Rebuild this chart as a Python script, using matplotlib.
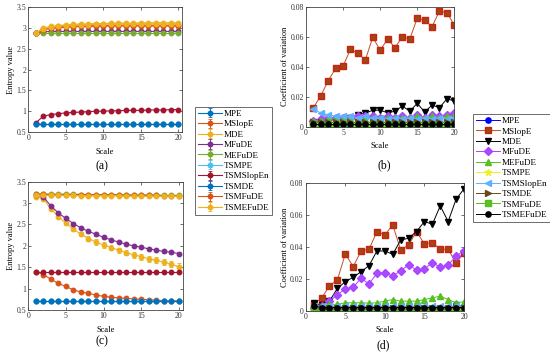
import numpy as np
import matplotlib
matplotlib.use("Agg")
import matplotlib.pyplot as plt

plt.rcParams['font.family'] = ['Liberation Serif', 'DejaVu Serif']

W, H = 550, 356
scale = np.arange(1, 21)
names = ['MPE', 'MSlopE', 'MDE', 'MFuDE', 'MEFuDE',
         'TSMPE', 'TSMSlopEn', 'TSMDE', 'TSMFuDE', 'TSMEFuDE']

# (a) entropy values
a_mpe = [0.70, 0.70, 0.70, 0.70, 0.70, 0.70, 0.70, 0.70, 0.70, 0.70, 0.70, 0.70, 0.70, 0.70, 0.70, 0.70, 0.70, 0.70, 0.70, 0.70]
a_mslope = [2.88, 2.97, 3.01, 3.03, 3.04, 3.05, 3.05, 3.06, 3.06, 3.06, 3.07, 3.07, 3.07, 3.07, 3.07, 3.07, 3.07, 3.07, 3.07, 3.07]
a_mde = [2.88, 3.00, 3.04, 3.06, 3.08, 3.09, 3.10, 3.10, 3.11, 3.11, 3.12, 3.12, 3.12, 3.12, 3.13, 3.13, 3.13, 3.13, 3.13, 3.13]
a_mfude = [2.89, 2.91, 2.92, 2.92, 2.92, 2.92, 2.92, 2.92, 2.92, 2.92, 2.92, 2.92, 2.92, 2.92, 2.92, 2.92, 2.92, 2.92, 2.92, 2.92]
a_mefude = [2.88, 2.88, 2.88, 2.88, 2.88, 2.88, 2.88, 2.88, 2.88, 2.88, 2.88, 2.88, 2.88, 2.88, 2.88, 2.88, 2.88, 2.88, 2.88, 2.88]
a_tsmpe = [0.69, 0.69, 0.69, 0.69, 0.69, 0.69, 0.69, 0.69, 0.69, 0.69, 0.69, 0.69, 0.69, 0.69, 0.69, 0.69, 0.69, 0.69, 0.69, 0.69]
a_tsmslopen = [0.72, 0.88, 0.92, 0.94, 0.96, 0.97, 0.98, 0.99, 1.00, 1.00, 1.01, 1.01, 1.02, 1.02, 1.02, 1.03, 1.03, 1.03, 1.04, 1.04]
a_tsmde = [0.70, 0.70, 0.70, 0.70, 0.70, 0.70, 0.70, 0.70, 0.70, 0.70, 0.70, 0.70, 0.70, 0.70, 0.70, 0.70, 0.70, 0.70, 0.70, 0.70]
a_tsmfude = [2.88, 2.96, 2.99, 3.01, 3.02, 3.03, 3.04, 3.04, 3.05, 3.05, 3.05, 3.05, 3.05, 3.05, 3.05, 3.05, 3.05, 3.05, 3.05, 3.05]
a_tsmefude = [2.88, 2.98, 3.02, 3.05, 3.06, 3.07, 3.08, 3.08, 3.09, 3.09, 3.10, 3.10, 3.10, 3.10, 3.10, 3.10, 3.10, 3.10, 3.10, 3.10]

# (c) entropy values
c_mpe = [0.70, 0.70, 0.70, 0.70, 0.70, 0.70, 0.70, 0.70, 0.70, 0.70, 0.70, 0.70, 0.70, 0.70, 0.70, 0.70, 0.70, 0.70, 0.70, 0.70]
c_mslope = [1.40, 1.33, 1.22, 1.12, 1.05, 0.97, 0.92, 0.89, 0.85, 0.82, 0.80, 0.78, 0.77, 0.76, 0.75, 0.74, 0.73, 0.72, 0.72, 0.71]
c_mde = [3.15, 3.10, 2.87, 2.68, 2.53, 2.39, 2.27, 2.17, 2.09, 2.02, 1.96, 1.90, 1.84, 1.79, 1.75, 1.70, 1.66, 1.62, 1.57, 1.51]
c_mfude = [3.20, 3.15, 2.93, 2.77, 2.64, 2.52, 2.42, 2.34, 2.27, 2.20, 2.14, 2.09, 2.04, 2.00, 1.97, 1.93, 1.90, 1.87, 1.85, 1.82]
c_mefude = [3.21, 3.21, 3.21, 3.21, 3.21, 3.21, 3.20, 3.20, 3.20, 3.20, 3.20, 3.20, 3.19, 3.19, 3.19, 3.19, 3.19, 3.18, 3.18, 3.18]
c_tsmpe = [0.70, 0.70, 0.70, 0.70, 0.70, 0.70, 0.70, 0.70, 0.70, 0.70, 0.70, 0.70, 0.70, 0.70, 0.70, 0.70, 0.70, 0.70, 0.70, 0.70]
c_tsmslopen = [1.39, 1.39, 1.39, 1.39, 1.39, 1.39, 1.39, 1.39, 1.39, 1.39, 1.39, 1.39, 1.39, 1.39, 1.39, 1.39, 1.39, 1.39, 1.39, 1.39]
c_tsmde = [0.70, 0.70, 0.70, 0.70, 0.70, 0.70, 0.70, 0.70, 0.70, 0.70, 0.70, 0.70, 0.70, 0.70, 0.70, 0.70, 0.70, 0.70, 0.70, 0.70]
c_tsmfude = [3.21, 3.21, 3.20, 3.20, 3.20, 3.20, 3.20, 3.20, 3.19, 3.19, 3.19, 3.19, 3.19, 3.18, 3.18, 3.18, 3.18, 3.17, 3.17, 3.17]
c_tsmefude = [3.18, 3.18, 3.18, 3.18, 3.18, 3.18, 3.17, 3.17, 3.17, 3.17, 3.17, 3.17, 3.16, 3.16, 3.16, 3.16, 3.16, 3.16, 3.16, 3.16]
c_mde_err = [0.01, 0.02, 0.03, 0.04, 0.04, 0.05, 0.05, 0.05, 0.06, 0.06, 0.06, 0.06, 0.06, 0.07, 0.07, 0.07, 0.07, 0.07, 0.07, 0.08]
c_mfude_err = [0.01, 0.02, 0.02, 0.02, 0.03, 0.03, 0.03, 0.03, 0.03, 0.03, 0.03, 0.03, 0.03, 0.03, 0.03, 0.03, 0.03, 0.03, 0.03, 0.04]
small_err = 0.012

# (b) coefficient of variation
b_mpe = [0.0002, 0.0002, 0.0002, 0.0002, 0.0002, 0.0002, 0.0002, 0.0002, 0.0002, 0.0002, 0.0002, 0.0002, 0.0002, 0.0002, 0.0002, 0.0002, 0.0002, 0.0002, 0.0002, 0.0002]
b_mslope = [0.0127, 0.0207, 0.0307, 0.0390, 0.0405, 0.0516, 0.0490, 0.0445, 0.0596, 0.0510, 0.0583, 0.0527, 0.0600, 0.0585, 0.0723, 0.0711, 0.0667, 0.0771, 0.0760, 0.0678]
b_mde = [0.003, 0.004, 0.004, 0.005, 0.005, 0.006, 0.008, 0.009, 0.011, 0.011, 0.0093, 0.0103, 0.0138, 0.0103, 0.0156, 0.0098, 0.0144, 0.0127, 0.0185, 0.0173]
b_mfude = [0.004, 0.005, 0.006, 0.006, 0.006, 0.006, 0.007, 0.007, 0.007, 0.006, 0.007, 0.006, 0.007, 0.006, 0.008, 0.006, 0.008, 0.007, 0.008, 0.009]
b_mefude = [0.004, 0.004, 0.005, 0.005, 0.005, 0.005, 0.005, 0.005, 0.006, 0.006, 0.006, 0.006, 0.006, 0.006, 0.007, 0.006, 0.007, 0.006, 0.007, 0.007]
b_tsmpe = [0.0005, 0.0005, 0.0005, 0.0005, 0.0005, 0.0005, 0.0005, 0.0005, 0.0005, 0.0005, 0.0005, 0.0005, 0.0005, 0.0005, 0.0005, 0.0005, 0.0005, 0.0005, 0.0005, 0.0005]
b_tsmslopen = [0.012, 0.009, 0.008, 0.007, 0.007, 0.007, 0.006, 0.007, 0.006, 0.006, 0.005, 0.006, 0.005, 0.006, 0.005, 0.006, 0.005, 0.006, 0.005, 0.006]
b_tsmde = [0.003, 0.003, 0.003, 0.003, 0.003, 0.003, 0.003, 0.003, 0.003, 0.003, 0.003, 0.003, 0.003, 0.003, 0.003, 0.003, 0.003, 0.003, 0.003, 0.003]
b_tsmfude = [0.001, 0.001, 0.001, 0.001, 0.001, 0.001, 0.001, 0.001, 0.001, 0.001, 0.001, 0.001, 0.001, 0.001, 0.001, 0.001, 0.001, 0.001, 0.001, 0.001]
b_tsmefude = [0.002, 0.002, 0.002, 0.002, 0.002, 0.002, 0.002, 0.002, 0.002, 0.002, 0.002, 0.002, 0.002, 0.002, 0.002, 0.002, 0.002, 0.002, 0.002, 0.002]

# (d) coefficient of variation
d_mpe = [0.0005, 0.0005, 0.0005, 0.0005, 0.0005, 0.0005, 0.0005, 0.0005, 0.0005, 0.0005, 0.0005, 0.0005, 0.0005, 0.0005, 0.0005, 0.0005, 0.0005, 0.0008, 0.0040, 0.0020]
d_mslope = [0.004, 0.0078, 0.0157, 0.0193, 0.0356, 0.0277, 0.0375, 0.0386, 0.0497, 0.0476, 0.0539, 0.0381, 0.0413, 0.0497, 0.0419, 0.0428, 0.0386, 0.0386, 0.0298, 0.0365]
d_mde = [0.0046, 0.0036, 0.0060, 0.0140, 0.0182, 0.0210, 0.0245, 0.0283, 0.0375, 0.0375, 0.0354, 0.0444, 0.0455, 0.0497, 0.0560, 0.0543, 0.0658, 0.0560, 0.0700, 0.0765]
d_mfude = [0.002, 0.003, 0.006, 0.0099, 0.0138, 0.0147, 0.0204, 0.0168, 0.0235, 0.0238, 0.0218, 0.0251, 0.0287, 0.0256, 0.0262, 0.0302, 0.0273, 0.0287, 0.0344, 0.0377]
d_mefude = [0.002, 0.003, 0.004, 0.004, 0.005, 0.005, 0.005, 0.0047, 0.005, 0.006, 0.007, 0.006, 0.006, 0.006, 0.007, 0.008, 0.0092, 0.007, 0.005, 0.0057]
d_tsmpe = [0.0003, 0.0003, 0.0003, 0.0003, 0.0003, 0.0003, 0.0003, 0.0003, 0.0003, 0.0003, 0.0003, 0.0003, 0.0003, 0.0003, 0.0003, 0.0003, 0.0003, 0.0003, 0.0003, 0.0003]
d_tsmslopen = [0.003, 0.003, 0.003, 0.003, 0.003, 0.003, 0.003, 0.003, 0.003, 0.003, 0.003, 0.003, 0.003, 0.003, 0.003, 0.003, 0.003, 0.003, 0.003, 0.003]
d_tsmde = [0.002, 0.002, 0.002, 0.002, 0.002, 0.002, 0.002, 0.002, 0.002, 0.002, 0.002, 0.002, 0.002, 0.002, 0.002, 0.002, 0.002, 0.002, 0.002, 0.002]
d_tsmfude = [0.0005, 0.0005, 0.0005, 0.0005, 0.0005, 0.0005, 0.0005, 0.0005, 0.0005, 0.0005, 0.0005, 0.0005, 0.0005, 0.0005, 0.0005, 0.0005, 0.0005, 0.0005, 0.0005, 0.0005]
d_tsmefude = [0.003, 0.002, 0.002, 0.002, 0.002, 0.002, 0.002, 0.002, 0.002, 0.002, 0.002, 0.002, 0.002, 0.002, 0.002, 0.002, 0.002, 0.002, 0.002, 0.002]

# matlab default colour order, cycled for the entropy plots
mcol = ['#0072BD', '#D95319', '#EDB120', '#7E2F8E', '#77AC30',
        '#4DBEEE', '#A2142F', '#0072BD', '#D95319', '#EDB120']
# marker styles for the cv plots: (marker, line colour, face colour, edge colour)
cv_style = [('o', '#0000ff', '#0000ff', '#0000ff'),
            ('s', '#c0502a', '#9a4a14', '#d02010'),
            ('v', '#000000', '#000000', '#000000'),
            ('D', '#b040ff', '#a050ff', '#b040ff'),
            ('^', '#50c020', '#60c020', '#50c020'),
            ('*', '#f0f020', '#f0f020', '#f0f020'),
            ('<', '#60b0ff', '#60b0ff', '#60b0ff'),
            ('>', '#6a4a1a', '#6a4a1a', '#6a4a1a'),
            ('s', '#50c020', '#60c020', '#50c020'),
            ('o', '#000000', '#000000', '#000000')]

fig = plt.figure(figsize=(W / 100, H / 100), dpi=100)


def add_ax(l, t, r, b):
    return fig.add_axes([l / W, 1 - b / H, (r - l) / W, (b - t) / H])


def style_ax(ax):
    ax.tick_params(direction='in', top=True, right=True, length=2.5, width=0.5,
                   labelsize=5.6, pad=1.5, colors='#333333')
    for s in ax.spines.values():
        s.set_linewidth(0.6)
        s.set_color('#444444')


def entropy_panel(ax, series, errs):
    for i, y in enumerate(series):
        ax.errorbar(scale, y, yerr=errs[i], color=mcol[i], marker='o', ms=3.2,
                    lw=0.8, elinewidth=0.7, capsize=1.2, capthick=0.6,
                    label=names[i])
    ax.set_xlim(0, 20.5)
    ax.set_ylim(0.5, 3.5)
    ax.set_xticks([0, 5, 10, 15, 20])
    ax.set_yticks([0.5, 1, 1.5, 2, 2.5, 3, 3.5])
    ax.set_yticklabels(['0.5', '1', '1.5', '2', '2.5', '3', '3.5'])
    ax.set_xlabel('Scale', fontsize=6)
    ax.set_ylabel('Entropy value', fontsize=6, labelpad=1)
    style_ax(ax)


def cv_panel(ax, series):
    for i, y in enumerate(series):
        m, lc, fc, ec = cv_style[i]
        ax.plot(scale, y, color=lc, marker=m, mfc=fc, mec=ec, ms=3.8 if m != '*' else 5,
                lw=0.7, label=names[i])
    ax.set_xlim(0, 20)
    ax.set_ylim(0, 0.08)
    ax.set_xticks([0, 5, 10, 15, 20])
    ax.set_yticks([0, 0.02, 0.04, 0.06, 0.08])
    ax.set_yticklabels(['0', '0.02', '0.04', '0.06', '0.08'])
    ax.set_xlabel('Scale', fontsize=6)
    ax.set_ylabel('Coefficient of variation', fontsize=6, labelpad=1)
    style_ax(ax)


ax_a = add_ax(28.3, 7.3, 182, 132)
entropy_panel(ax_a, [a_mpe, a_mslope, a_mde, a_mfude, a_mefude, a_tsmpe,
                     a_tsmslopen, a_tsmde, a_tsmfude, a_tsmefude], [small_err] * 10)

ax_c = add_ax(28.3, 181.7, 182.5, 310)
c_errs = [small_err, small_err, c_mde_err, c_mfude_err] + [small_err] * 6
entropy_panel(ax_c, [c_mpe, c_mslope, c_mde, c_mfude, c_mefude, c_tsmpe,
                     c_tsmslopen, c_tsmde, c_tsmfude, c_tsmefude], c_errs)

ax_b = add_ax(306, 6.7, 454.3, 126.7)
cv_panel(ax_b, [b_mpe, b_mslope, b_mde, b_mfude, b_mefude, b_tsmpe,
                b_tsmslopen, b_tsmde, b_tsmfude, b_tsmefude])

ax_d = add_ax(305.7, 183.3, 464, 310.7)
cv_panel(ax_d, [d_mpe, d_mslope, d_mde, d_mfude, d_mefude, d_tsmpe,
                d_tsmslopen, d_tsmde, d_tsmfude, d_tsmefude])

# panel letters
for txt, x, y in [('(a)', 102, 166), ('(b)', 384, 165), ('(c)', 102, 341), ('(d)', 383, 345)]:
    fig.text(x / W, 1 - y / H, txt, ha='center', va='center', fontsize=8.5)

# legends
h, l = ax_a.get_legend_handles_labels()
leg1 = fig.legend(h, l, loc='upper left', bbox_to_anchor=(195 / W, 1 - 106.7 / H),
                  fontsize=6.6, frameon=True, fancybox=False, framealpha=1,
                  edgecolor='#555555', borderpad=0.3, labelspacing=0.22,
                  handlelength=2.6, handletextpad=0.2, borderaxespad=0)
leg1.get_frame().set_linewidth(0.6)

h, l = ax_b.get_legend_handles_labels()
leg2 = fig.legend(h, l, loc='upper left', bbox_to_anchor=(473.3 / W, 1 - 114 / H),
                  fontsize=6.6, frameon=True, fancybox=False, framealpha=1,
                  edgecolor='#555555', borderpad=0.3, labelspacing=0.22,
                  handlelength=2.6, handletextpad=0.2, borderaxespad=0)
leg2.get_frame().set_linewidth(0.6)

fig.savefig('out.png', dpi=100)
